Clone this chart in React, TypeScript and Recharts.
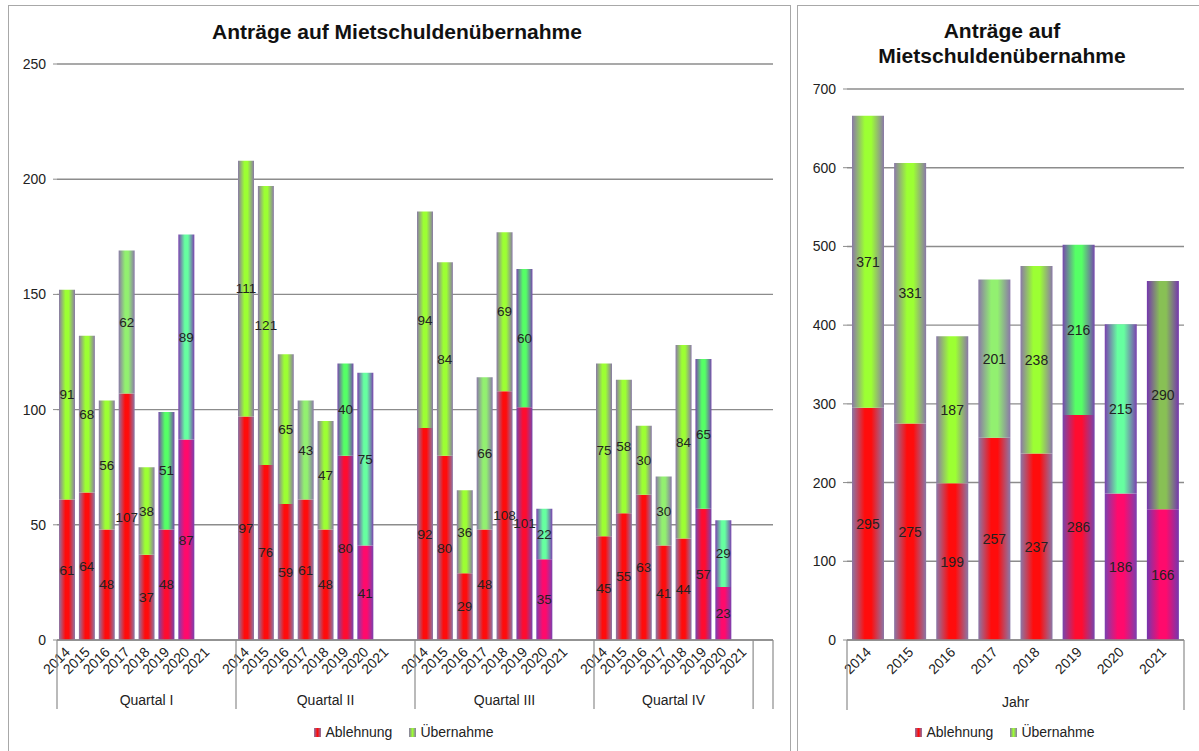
import React from "react";
import { BarChart, Bar, XAxis, YAxis, CartesianGrid, LabelList, Cell, Legend } from "recharts";

const FONT = "'Liberation Sans', Arial, sans-serif";

const years = ["2014", "2015", "2016", "2017", "2018", "2019", "2020", "2021"];
const quartale = ["Quartal I", "Quartal II", "Quartal III", "Quartal IV"];

// Quartalswerte 2014-2020, für 2021 gibt es noch keine Quartalszahlen
const ablehnungQ1 = [61, 64, 48, 107, 37, 48, 87];
const uebernahmeQ1 = [91, 68, 56, 62, 38, 51, 89];
const ablehnungQ2 = [97, 76, 59, 61, 48, 80, 41];
const uebernahmeQ2 = [111, 121, 65, 43, 47, 40, 75];
const ablehnungQ3 = [92, 80, 29, 48, 108, 101, 35];
const uebernahmeQ3 = [94, 84, 36, 66, 69, 60, 22];
const ablehnungQ4 = [45, 55, 63, 41, 44, 57, 23];
const uebernahmeQ4 = [75, 58, 30, 30, 84, 65, 29];

// Jahressummen
const ablehnungJahr = [295, 275, 199, 257, 237, 286, 186, 166];
const uebernahmeJahr = [371, 331, 187, 201, 238, 216, 215, 290];

const quartalTicks = [0, 50, 100, 150, 200, 250];
const jahrTicks = [0, 100, 200, 300, 400, 500, 600, 700];

// Farben je Jahr (Rand / Mitte)
const edgeColors = ["#8a78a8", "#8a78a8", "#8a78a8", "#8a78a8", "#8a78a8", "#7646ae", "#7a40b0", "#7436ae"];
const redColors = ["#ff0c0c", "#ff0c0c", "#ff0c0c", "#ff0c0c", "#ff0c0c", "#ff0c30", "#ff0a6c", "#ff0a6c"];
const greenColors = ["#9cff33", "#9cff33", "#9cff33", "#92f070", "#9cff33", "#55ff66", "#66ffa0", "#88c055"];

const GRID = "#8c8c8c";
const TEXT = "#222";

type Row = {
  key: string;
  jahr: string;
  quartal: string;
  yearIdx: number;
  ablehnung: number | null;
  uebernahme: number | null;
  start: boolean;
  end: boolean;
  span: number;
};

const quarterAbl = [ablehnungQ1, ablehnungQ2, ablehnungQ3, ablehnungQ4];
const quarterUeb = [uebernahmeQ1, uebernahmeQ2, uebernahmeQ3, uebernahmeQ4];

const quartalData: Row[] = [];
quartale.forEach((q, qi) => {
  const span = qi < 3 ? 9 : 8;
  years.forEach((y, yi) => {
    quartalData.push({
      key: `${q} ${y}`,
      jahr: y,
      quartal: q,
      yearIdx: yi,
      ablehnung: quarterAbl[qi][yi] ?? null,
      uebernahme: quarterUeb[qi][yi] ?? null,
      start: yi === 0,
      end: false,
      span,
    });
  });
  if (qi < 3) {
    quartalData.push({ key: `${q} leer`, jahr: "", quartal: q, yearIdx: 0, ablehnung: null, uebernahme: null, start: false, end: false, span });
  }
});
quartalData.push({ key: "leer", jahr: "", quartal: "", yearIdx: 0, ablehnung: null, uebernahme: null, start: true, end: true, span: 1 });

const jahrData = years.map((y, i) => ({
  jahr: y,
  ablehnung: ablehnungJahr[i],
  uebernahme: uebernahmeJahr[i],
}));

const Gradients = ({ prefix }: { prefix: string }) => (
  <defs>
    {years.map((_, i) => (
      <linearGradient key={"a" + i} id={`${prefix}a${i}`} x1="0" y1="0" x2="1" y2="0">
        <stop offset="0" stopColor={edgeColors[i]} />
        <stop offset="0.4" stopColor={redColors[i]} />
        <stop offset="0.6" stopColor={redColors[i]} />
        <stop offset="1" stopColor={edgeColors[i]} />
      </linearGradient>
    ))}
    {years.map((_, i) => (
      <linearGradient key={"u" + i} id={`${prefix}u${i}`} x1="0" y1="0" x2="1" y2="0">
        <stop offset="0" stopColor={edgeColors[i]} />
        <stop offset="0.4" stopColor={greenColors[i]} />
        <stop offset="0.6" stopColor={greenColors[i]} />
        <stop offset="1" stopColor={edgeColors[i]} />
      </linearGradient>
    ))}
  </defs>
);

const hideEmpty = (v: any) => (v == null ? "" : v);

const LegendContent = () => (
  <div style={{ display: "flex", justifyContent: "center", alignItems: "center", gap: 17, fontSize: 14, color: TEXT, fontFamily: FONT, height: 20 }}>
    <span style={{ display: "flex", alignItems: "center" }}>
      <span style={{ width: 7, height: 9, marginRight: 4, background: "linear-gradient(90deg,#8a78a8,#ff0c0c,#8a78a8)" }} />
      Ablehnung
    </span>
    <span style={{ display: "flex", alignItems: "center" }}>
      <span style={{ width: 7, height: 9, marginRight: 4, background: "linear-gradient(90deg,#8a78a8,#9cff33,#8a78a8)" }} />
      Übernahme
    </span>
  </div>
);

const QuartalTick = (props: any) => {
  const { x, y, payload } = props;
  const row = quartalData[payload.index];
  if (!row) return null;
  const half = payload.offset || 9.95;
  const left = x - half;
  return (
    <g>
      {row.jahr && (
        <text x={x + 4} y={y + 13} transform={`rotate(-45 ${x + 4} ${y + 13})`} textAnchor="end" fontSize={14} fill={TEXT} fontFamily={FONT}>
          {row.jahr}
        </text>
      )}
      {row.start && <line x1={left} x2={left} y1={y} y2={y + 69} stroke={GRID} strokeWidth={1.2} />}
      {row.start && row.quartal && (
        <text x={left + half * row.span} y={y + 65} textAnchor="middle" fontSize={14} fill={TEXT} fontFamily={FONT}>
          {row.quartal}
        </text>
      )}
      {row.end && <line x1={x + half} x2={x + half} y1={y} y2={y + 69} stroke={GRID} strokeWidth={1.2} />}
    </g>
  );
};

const JahrTick = (props: any) => {
  const { x, y, payload } = props;
  const half = payload.offset || 21;
  const i = payload.index;
  return (
    <g>
      <text x={x + 4} y={y + 13} transform={`rotate(-45 ${x + 4} ${y + 13})`} textAnchor="end" fontSize={14} fill={TEXT} fontFamily={FONT}>
        {payload.value}
      </text>
      {i === 0 && <line x1={x - half} x2={x - half} y1={y} y2={y + 70} stroke={GRID} strokeWidth={1.2} />}
      {i === 0 && (
        <text x={x - half + half * years.length} y={y + 67} textAnchor="middle" fontSize={14} fill={TEXT} fontFamily={FONT}>
          Jahr
        </text>
      )}
      {i === years.length - 1 && <line x1={x + half} x2={x + half} y1={y} y2={y + 70} stroke={GRID} strokeWidth={1.2} />}
    </g>
  );
};

const titleStyle: React.CSSProperties = {
  position: "absolute",
  fontFamily: FONT,
  fontWeight: "bold",
  fontSize: 21,
  color: "#111",
  textAlign: "center",
  lineHeight: "25px",
};

export default function App() {
  return (
    <div style={{ position: "absolute", left: 0, top: 0, width: 1199, height: 751, background: "#fff", overflow: "hidden", fontFamily: FONT }}>
      {/* Rahmen */}
      <div style={{ position: "absolute", left: 8, top: 5, width: 783, height: 760, border: "1.5px solid #a8a8a8", boxSizing: "border-box" }} />
      <div style={{ position: "absolute", left: 797, top: 5, width: 420, height: 760, border: "1.5px solid #a8a8a8", boxSizing: "border-box" }} />

      <div style={{ ...titleStyle, left: 8, top: 19, width: 778 }}>Anträge auf Mietschuldenübernahme</div>
      <div style={{ ...titleStyle, left: 797, top: 18, width: 410 }}>
        Anträge auf
        <br />
        Mietschuldenübernahme
      </div>

      <div style={{ position: "absolute", left: 0, top: 0 }}>
        <BarChart width={790} height={751} data={quartalData} margin={{ top: 64, right: 17, bottom: 9, left: 0 }} barSize={16}>
          <Gradients prefix="q" />
          <CartesianGrid vertical={false} stroke={GRID} strokeWidth={1.4} />
          <YAxis
            width={57}
            domain={[0, 250]}
            ticks={quartalTicks}
            axisLine={false}
            tickSize={4}
            tickMargin={7}
            tickLine={{ stroke: GRID }}
            tick={{ fontSize: 14, fill: TEXT, fontFamily: FONT }}
          />
          <XAxis
            dataKey="key"
            interval={0}
            height={82}
            tickSize={0}
            tickMargin={0}
            tickLine={false}
            axisLine={{ stroke: GRID, strokeWidth: 1.4 }}
            tick={<QuartalTick />}
          />
          <Legend verticalAlign="bottom" height={20} content={<LegendContent />} wrapperStyle={{ left: 0, width: 808 }} />
          <Bar dataKey="ablehnung" name="Ablehnung" stackId="a" isAnimationActive={false}>
            {quartalData.map((r) => (
              <Cell key={r.key} fill={`url(#qa${r.yearIdx})`} />
            ))}
            <LabelList dataKey="ablehnung" position="center" formatter={hideEmpty} fill={TEXT} fontSize={13.5} fontFamily={FONT} />
          </Bar>
          <Bar dataKey="uebernahme" name="Übernahme" stackId="a" isAnimationActive={false}>
            {quartalData.map((r) => (
              <Cell key={r.key} fill={`url(#qu${r.yearIdx})`} />
            ))}
            <LabelList dataKey="uebernahme" position="center" formatter={hideEmpty} fill={TEXT} fontSize={13.5} fontFamily={FONT} />
          </Bar>
        </BarChart>
      </div>

      <div style={{ position: "absolute", left: 797, top: 0 }}>
        <BarChart width={402} height={751} data={jahrData} margin={{ top: 89, right: 15, bottom: 9, left: 0 }} barSize={32}>
          <Gradients prefix="j" />
          <CartesianGrid vertical={false} stroke={GRID} strokeWidth={1.4} />
          <YAxis
            width={50}
            domain={[0, 700]}
            ticks={jahrTicks}
            axisLine={false}
            tickSize={4}
            tickMargin={7}
            tickLine={{ stroke: GRID }}
            tick={{ fontSize: 14, fill: TEXT, fontFamily: FONT }}
          />
          <XAxis
            dataKey="jahr"
            interval={0}
            height={82}
            tickSize={0}
            tickMargin={0}
            tickLine={false}
            axisLine={{ stroke: GRID, strokeWidth: 1.4 }}
            tick={<JahrTick />}
          />
          <Legend verticalAlign="bottom" height={20} content={<LegendContent />} wrapperStyle={{ left: 0, width: 416 }} />
          <Bar dataKey="ablehnung" name="Ablehnung" stackId="a" isAnimationActive={false}>
            {jahrData.map((r, i) => (
              <Cell key={r.jahr} fill={`url(#ja${i})`} />
            ))}
            <LabelList dataKey="ablehnung" position="center" fill={TEXT} fontSize={14} fontFamily={FONT} />
          </Bar>
          <Bar dataKey="uebernahme" name="Übernahme" stackId="a" isAnimationActive={false}>
            {jahrData.map((r, i) => (
              <Cell key={r.jahr} fill={`url(#ju${i})`} />
            ))}
            <LabelList dataKey="uebernahme" position="center" fill={TEXT} fontSize={14} fontFamily={FONT} />
          </Bar>
        </BarChart>
      </div>
    </div>
  );
}
